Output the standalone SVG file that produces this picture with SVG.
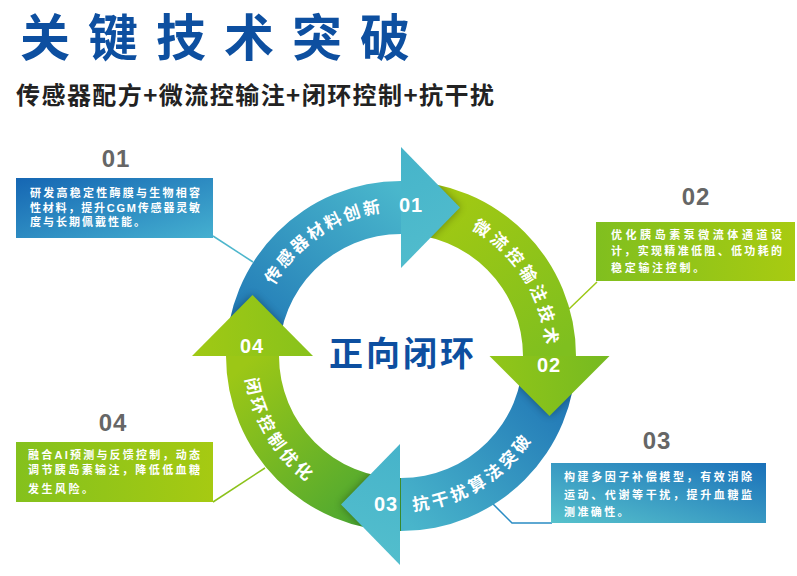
<svg xmlns="http://www.w3.org/2000/svg" xmlns:xlink="http://www.w3.org/1999/xlink" width="797" height="576" viewBox="0 0 797 576">
<style>
.title{font-family:"Noto Sans CJK SC","Noto Sans CJK JP",sans-serif;font-weight:700;fill:#0d4fa0}
.sub{font-family:"Noto Sans CJK SC","Noto Sans CJK JP",sans-serif;font-weight:700;fill:#222;font-size:24px}
.arc{font-family:"Noto Sans CJK SC","Noto Sans CJK JP",sans-serif;font-weight:700;fill:#fff;font-size:17px}
.num{font-family:"Liberation Sans",Arial,sans-serif;font-weight:700;fill:#fff;font-size:20px;text-anchor:middle;letter-spacing:1px}
.lbl{font-family:"Liberation Sans",Arial,sans-serif;font-weight:700;fill:#666;font-size:24px;text-anchor:middle;letter-spacing:1px}
.bt{font-family:"Liberation Sans","Noto Sans CJK SC",sans-serif;font-weight:700;fill:#fff;font-size:11px}
.conn{fill:none;stroke-width:1.5}
.shadow{fill:#000;opacity:0.35}
</style>
<defs>
<linearGradient id="gb1" gradientUnits="userSpaceOnUse" x1="240" y1="400" x2="400" y2="190"><stop offset="0" stop-color="#1668b0"/><stop offset="1" stop-color="#4ab7cc"/></linearGradient>
<linearGradient id="gh1" gradientUnits="userSpaceOnUse" x1="401" y1="150" x2="460" y2="260"><stop offset="0" stop-color="#46b4ca"/><stop offset="1" stop-color="#52bdcd"/></linearGradient>
<linearGradient id="gb2" gradientUnits="userSpaceOnUse" x1="420" y1="190" x2="560" y2="350"><stop offset="0" stop-color="#a6ca11"/><stop offset="1" stop-color="#7fbf1f"/></linearGradient>
<linearGradient id="gh2" gradientUnits="userSpaceOnUse" x1="489" y1="356" x2="609" y2="356"><stop offset="0" stop-color="#92c618"/><stop offset="1" stop-color="#76ba21"/></linearGradient>
<linearGradient id="gb3" gradientUnits="userSpaceOnUse" x1="576" y1="356" x2="410" y2="525"><stop offset="0" stop-color="#1a6cb2"/><stop offset="1" stop-color="#49b5cb"/></linearGradient>
<linearGradient id="gh3" gradientUnits="userSpaceOnUse" x1="400" y1="444" x2="360" y2="565"><stop offset="0" stop-color="#46b3ca"/><stop offset="1" stop-color="#54bfcd"/></linearGradient>
<linearGradient id="gb4" gradientUnits="userSpaceOnUse" x1="401" y1="531" x2="250" y2="360"><stop offset="0" stop-color="#3fa236"/><stop offset="1" stop-color="#9cc716"/></linearGradient>
<linearGradient id="gh4" gradientUnits="userSpaceOnUse" x1="192" y1="356" x2="313" y2="356"><stop offset="0" stop-color="#a0c914"/><stop offset="1" stop-color="#88c21b"/></linearGradient>
<linearGradient id="bx1" x1="0" y1="0" x2="1" y2="1"><stop offset="0" stop-color="#1566b3"/><stop offset="1" stop-color="#45b0d0"/></linearGradient>
<linearGradient id="bx3" x1="1" y1="0" x2="0" y2="1"><stop offset="0" stop-color="#1a70b9"/><stop offset="1" stop-color="#57c2cc"/></linearGradient>
<linearGradient id="bx2" x1="0" y1="0" x2="1" y2="0"><stop offset="0" stop-color="#80bf1f"/><stop offset="1" stop-color="#a8cb11"/></linearGradient>
<linearGradient id="bx4" x1="0" y1="0" x2="1" y2="0"><stop offset="0" stop-color="#84c11d"/><stop offset="1" stop-color="#a6ca12"/></linearGradient>
<filter id="blur" x="-30%" y="-30%" width="160%" height="160%"><feGaussianBlur stdDeviation="4"/></filter>
<path id="b1" d="M226,356 A175,175 0 0 1 401,181 L401,234 A122,122 0 0 0 279,356 Z"/>
<path id="b2" d="M401,181 A175,175 0 0 1 576,356 L523,356 A122,122 0 0 0 401,234 Z"/>
<path id="b3" d="M576,356 A175,175 0 0 1 401,531 L401,478 A122,122 0 0 0 523,356 Z"/>
<path id="b4" d="M401,531 A175,175 0 0 1 226,356 L279,356 A122,122 0 0 0 401,478 Z"/>
<path id="h1" d="M401,147 L460,207.5 L401,268 Z"/>
<path id="h2" d="M489.5,356 L609.5,356 L549.5,416 Z"/>
<path id="h3" d="M400,444 L400,565 L341,504.5 Z"/>
<path id="h4" d="M192,356 L313,356 L252.5,295 Z"/>
<clipPath id="cb1"><use xlink:href="#b1"/></clipPath>
<clipPath id="cb2"><use xlink:href="#b2"/></clipPath>
<clipPath id="cb3"><use xlink:href="#b3"/></clipPath>
<clipPath id="cb4"><use xlink:href="#b4"/></clipPath>
<path id="tp1" d="M258.7,328.3 A145,145 0 0 1 428.7,213.7"/>
<path id="tp2" d="M433.6,214.7 A145,145 0 0 1 542.3,388.6"/>
<path id="tp3" d="M364.6,506.7 A155,155 0 0 0 551.7,392.4"/>
<path id="tp4" d="M248.4,319.1 A157,157 0 0 0 364.1,508.6"/>
</defs>

<g id="header">
<text class="title" x="20" y="56" font-size="50" letter-spacing="18">关键技术突破</text>
<text class="sub" x="16" y="104" textLength="478" lengthAdjust="spacing">传感器配方+微流控输注+闭环控制+抗干扰</text>
</g>

<g id="connectors">
<polyline class="conn" stroke="#4db6cc" points="213,236 253,262"/>
<polyline class="conn" stroke="#9cc816" points="597,282 569,309"/>
<polyline class="conn" stroke="#2a8cc4" points="493,504 512,523 552,523"/>
<polyline class="conn" stroke="#8cc21b" points="213,502 265,468"/>
</g>

<g id="ring-bands">
<use xlink:href="#b1" fill="url(#gb1)"/>
<use xlink:href="#b2" fill="url(#gb2)"/>
<use xlink:href="#b3" fill="url(#gb3)"/>
<use xlink:href="#b4" fill="url(#gb4)"/>
</g>

<g id="step01">
<g clip-path="url(#cb2)"><use xlink:href="#h1" class="shadow" filter="url(#blur)"/></g>
<use xlink:href="#h1" fill="url(#gh1)"/>
<text class="arc" letter-spacing="2.5"><textPath xlink:href="#tp1" startOffset="50%" text-anchor="middle">传感器材料创新</textPath></text>
<text class="num" x="411" y="212">01</text>
</g>

<g id="step02">
<g clip-path="url(#cb3)"><use xlink:href="#h2" class="shadow" filter="url(#blur)"/></g>
<use xlink:href="#h2" fill="url(#gh2)"/>
<text class="arc" letter-spacing="4"><textPath xlink:href="#tp2" startOffset="50%" text-anchor="middle">微流控输注技术</textPath></text>
<text class="num" x="549" y="372">02</text>
</g>

<g id="step03">
<g clip-path="url(#cb4)"><use xlink:href="#h3" class="shadow" filter="url(#blur)"/></g>
<use xlink:href="#h3" fill="url(#gh3)"/>
<text class="arc" letter-spacing="3.8"><textPath xlink:href="#tp3" startOffset="50%" text-anchor="middle">抗干扰算法突破</textPath></text>
<text class="num" x="386" y="511">03</text>
</g>

<g id="step04">
<g clip-path="url(#cb1)"><use xlink:href="#h4" class="shadow" filter="url(#blur)"/></g>
<use xlink:href="#h4" fill="url(#gh4)"/>
<text class="arc" letter-spacing="4"><textPath xlink:href="#tp4" startOffset="50%" text-anchor="middle">闭环控制优化</textPath></text>
<text class="num" x="252" y="353">04</text>
</g>

<g id="center">
<text class="title" x="403" y="366" font-size="34" text-anchor="middle" letter-spacing="3">正向闭环</text>
</g>

<g id="info01">
<text class="lbl" x="116" y="167">01</text>
<rect x="16" y="178" width="197" height="60" fill="url(#bx1)"/>
<text class="bt" x="30" y="197" textLength="170" lengthAdjust="spacing">研发高稳定性酶膜与生物相容</text>
<text class="bt" x="30" y="211.5" textLength="170" lengthAdjust="spacing">性材料，提升CGM传感器灵敏</text>
<text class="bt" x="30" y="226" letter-spacing="2">度与长期佩戴性能。</text>
</g>

<g id="info02">
<text class="lbl" x="696" y="205">02</text>
<rect x="596" y="222" width="199" height="59" fill="url(#bx2)"/>
<text class="bt" x="611" y="238.5" textLength="171" lengthAdjust="spacing">优化胰岛素泵微流体通道设</text>
<text class="bt" x="611" y="255" textLength="171" lengthAdjust="spacing">计，实现精准低阻、低功耗的</text>
<text class="bt" x="611" y="272" letter-spacing="2.7">稳定输注控制。</text>
</g>

<g id="info03">
<text class="lbl" x="657" y="449">03</text>
<rect x="551" y="463" width="215" height="60" fill="url(#bx3)"/>
<text class="bt" x="564" y="481" textLength="188" lengthAdjust="spacing">构建多因子补偿模型，有效消除</text>
<text class="bt" x="564" y="498.5" textLength="188" lengthAdjust="spacing">运动、代谢等干扰，提升血糖监</text>
<text class="bt" x="564" y="516" letter-spacing="2.4">测准确性。</text>
</g>

<g id="info04">
<text class="lbl" x="113" y="431">04</text>
<rect x="16" y="442" width="197" height="60" fill="url(#bx4)"/>
<text class="bt" x="28" y="458.5" textLength="172" lengthAdjust="spacing">融合AI预测与反馈控制，动态</text>
<text class="bt" x="28" y="474" textLength="172" lengthAdjust="spacing">调节胰岛素输注，降低低血糖</text>
<text class="bt" x="28" y="493" letter-spacing="2.5">发生风险。</text>
</g>
</svg>
